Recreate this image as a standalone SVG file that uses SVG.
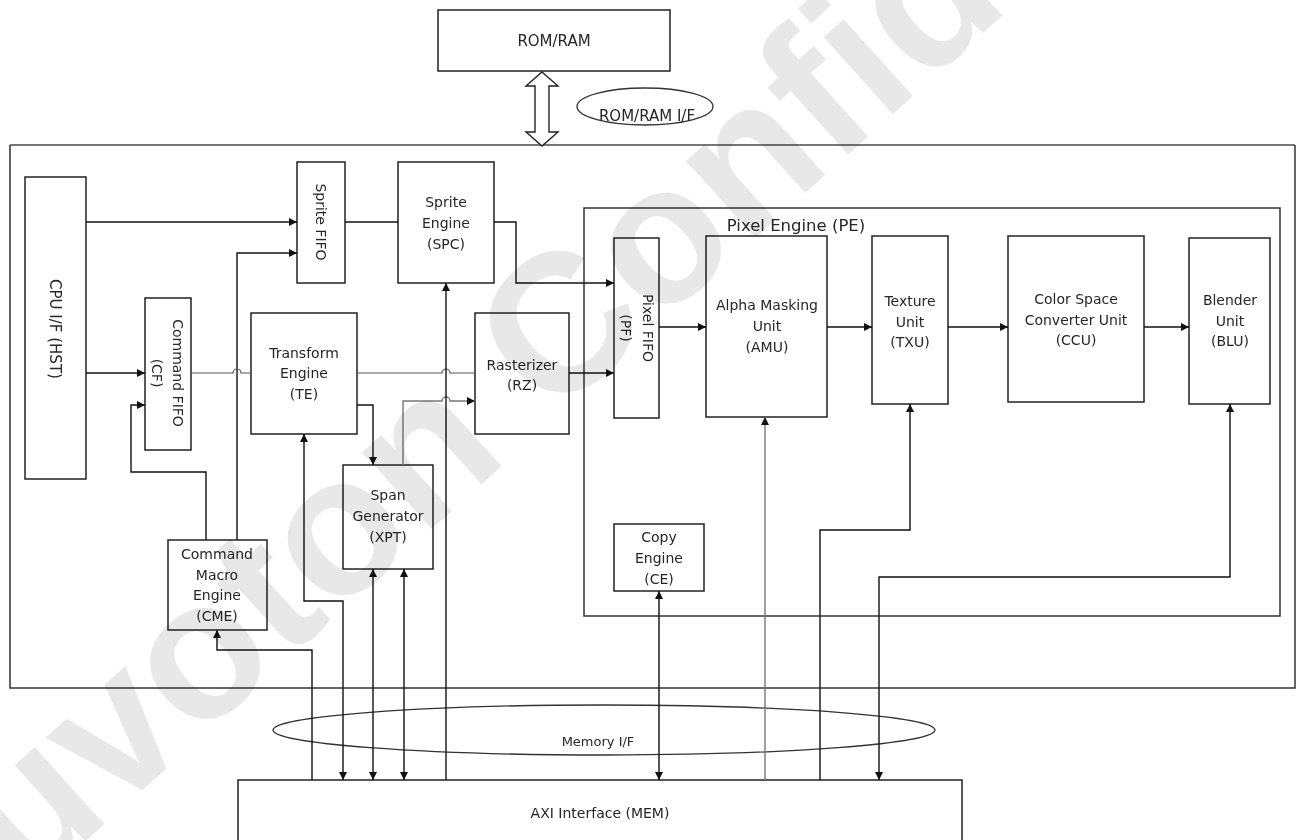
<svg xmlns="http://www.w3.org/2000/svg" width="1298" height="840" viewBox="0 0 1298 840">
<defs>
<marker id="arr" viewBox="0 0 10 10" refX="10" refY="5" markerWidth="9" markerHeight="8" markerUnits="userSpaceOnUse" orient="auto-start-reverse">
<path d="M0,0 L10,5 L0,10 z" fill="#111"/>
</marker>
<style>
.box{fill:#fff;stroke:#222;stroke-width:1.5}
.frame{fill:none;stroke:#333;stroke-width:1.5}
.t{font-family:"DejaVu Sans",sans-serif;font-size:14px;fill:#262626;text-anchor:middle}
.big{font-size:16.5px}
.ln{fill:none;stroke:#111;stroke-width:1.4}
.lg{fill:none;stroke:#777;stroke-width:1.4}
.ln2{fill:none;stroke:#555;stroke-width:1.2}
.a{marker-end:url(#arr)}
.b{marker-start:url(#arr);marker-end:url(#arr)}
.wm{font-family:"Liberation Sans",sans-serif;font-weight:bold;font-size:196px;fill:#e8e8e8}
</style>
</defs>
<rect width="1298" height="840" fill="#fff"/>

<g id="main-frame">
<path d="M10,145 H1295" stroke="#777" stroke-width="1.8" fill="none"/>
<path d="M10,145 V688 H1295 V145" class="frame"/>
</g>

<g id="rom-ram">
<rect x="438" y="10" width="232" height="61" class="box"/>
<text x="554" y="46" class="t" style="font-size:15px">ROM/RAM</text>
</g>
<g id="rom-ram-if">
<polygon points="542,72 558,86 549,86 549,132 558,132 542,146 526,132 535,132 535,86 526,86" fill="#fff" stroke="#222" stroke-width="1.4"/>
<ellipse cx="645" cy="106.5" rx="68" ry="18.5" fill="none" stroke="#333" stroke-width="1.3"/>
<text x="647" y="121" class="t" style="font-size:15px">ROM/RAM I/F</text>
</g>

<g id="pe">
<rect x="584" y="208" width="696" height="408" class="frame"/>
<text x="796" y="231" class="t big">Pixel Engine (PE)</text>
</g>

<g id="cpu">
<rect x="25" y="177" width="61" height="302" class="box"/>
<text transform="translate(55,329) rotate(90)" y="5" class="t" style="font-size:15px">CPU I/F (HST)</text>
</g>
<g id="cf">
<rect x="145" y="298" width="46" height="152" class="box"/>
<text transform="translate(173,373) rotate(90)" y="0" class="t">Command FIFO</text>
<text transform="translate(152,373) rotate(90)" y="0" class="t">(CF)</text>
</g>
<g id="sfifo">
<rect x="297" y="162" width="48" height="121" class="box"/>
<text transform="translate(321,222) rotate(90)" y="5" class="t">Sprite FIFO</text>
</g>
<g id="spc">
<rect x="398" y="162" width="96" height="121" class="box"/>
<text x="446" y="207" class="t">Sprite</text>
<text x="446" y="228" class="t">Engine</text>
<text x="446" y="249" class="t">(SPC)</text>
</g>
<g id="te">
<rect x="251" y="313" width="106" height="121" class="box"/>
<text x="304" y="358" class="t">Transform</text>
<text x="304" y="378" class="t">Engine</text>
<text x="304" y="399" class="t">(TE)</text>
</g>
<g id="rz">
<rect x="475" y="313" width="94" height="121" class="box"/>
<text x="522" y="370" class="t">Rasterizer</text>
<text x="522" y="390" class="t">(RZ)</text>
</g>
<g id="xpt">
<rect x="343" y="465" width="90" height="104" class="box"/>
<text x="388" y="500" class="t">Span</text>
<text x="388" y="521" class="t">Generator</text>
<text x="388" y="542" class="t">(XPT)</text>
</g>
<g id="cme">
<rect x="168" y="540" width="99" height="90" class="box"/>
<text x="217" y="559" class="t">Command</text>
<text x="217" y="580" class="t">Macro</text>
<text x="217" y="600" class="t">Engine</text>
<text x="217" y="621" class="t">(CME)</text>
</g>
<g id="pf">
<rect x="614" y="238" width="45" height="180" class="box"/>
<text transform="translate(643,328) rotate(90)" y="0" class="t">Pixel FIFO</text>
<text transform="translate(621,328) rotate(90)" y="0" class="t">(PF)</text>
</g>
<g id="amu">
<rect x="706" y="236" width="121" height="181" class="box"/>
<text x="767" y="310" class="t">Alpha Masking</text>
<text x="767" y="331" class="t">Unit</text>
<text x="767" y="352" class="t">(AMU)</text>
</g>
<g id="txu">
<rect x="872" y="236" width="76" height="168" class="box"/>
<text x="910" y="306" class="t">Texture</text>
<text x="910" y="327" class="t">Unit</text>
<text x="910" y="347" class="t">(TXU)</text>
</g>
<g id="ccu">
<rect x="1008" y="236" width="136" height="166" class="box"/>
<text x="1076" y="304" class="t">Color Space</text>
<text x="1076" y="325" class="t">Converter Unit</text>
<text x="1076" y="345" class="t">(CCU)</text>
</g>
<g id="blu">
<rect x="1189" y="238" width="81" height="166" class="box"/>
<text x="1230" y="305" class="t">Blender</text>
<text x="1230" y="326" class="t">Unit</text>
<text x="1230" y="346" class="t">(BLU)</text>
</g>
<g id="ce">
<rect x="614" y="524" width="90" height="67" class="box"/>
<text x="659" y="542" class="t">Copy</text>
<text x="659" y="563" class="t">Engine</text>
<text x="659" y="584" class="t">(CE)</text>
</g>

<g id="memory-if">
<ellipse cx="604" cy="730" rx="331" ry="25" fill="none" stroke="#333" stroke-width="1.3"/>
<text x="598" y="746" class="t" style="font-size:13px">Memory I/F</text>
</g>
<g id="axi">
<rect x="238" y="780" width="724" height="80" class="box"/>
<text x="600" y="818" class="t">AXI Interface (MEM)</text>
</g>

<g id="connectors">
<path d="M86,222 H297" class="ln a"/>
<path d="M86,373 H145" class="ln a"/>
<path d="M206,540 V472 H131 V405 H145" class="ln a"/>
<path d="M237,540 V253 H297" class="ln a"/>
<path d="M345,222 H398" class="ln"/>
<path d="M494,222 H516 V283 H614" class="ln a"/>
<path d="M191,373 H233 A4,4 0 0 1 241,373 H251" class="ln2"/>
<path d="M357,373 H442 A4,4 0 0 1 450,373 H475" class="ln2"/>
<path d="M569,373 H614" class="ln a"/>
<path d="M357,405 H373 V465" class="ln a"/>
<path d="M403,465 V401 H442 A4,4 0 0 1 450,401 H475" class="lg a"/>
<path d="M446,780 V283" class="ln a"/>
<path d="M343,780 V601 H304 V434" class="ln b"/>
<path d="M312,780 V650 H217 V630" class="ln a"/>
<path d="M373,780 V569" class="ln b"/>
<path d="M404,780 V569" class="ln b"/>
<path d="M659,780 V591" class="ln b"/>
<path d="M765,780 V417" class="lg a"/>
<path d="M820,780 V530 H910 V404" class="ln a"/>
<path d="M879,780 V577 H1230 V404" class="ln b"/>
<path d="M659,327 H706" class="ln a"/>
<path d="M827,327 H872" class="ln a"/>
<path d="M948,327 H1008" class="ln a"/>
<path d="M1144,327 H1189" class="ln a"/>
</g>

<g id="watermark" style="mix-blend-mode:multiply">
<text transform="translate(-80,990) rotate(-42)" class="wm">Nuvoton Confidential</text>
</g>
</svg>
